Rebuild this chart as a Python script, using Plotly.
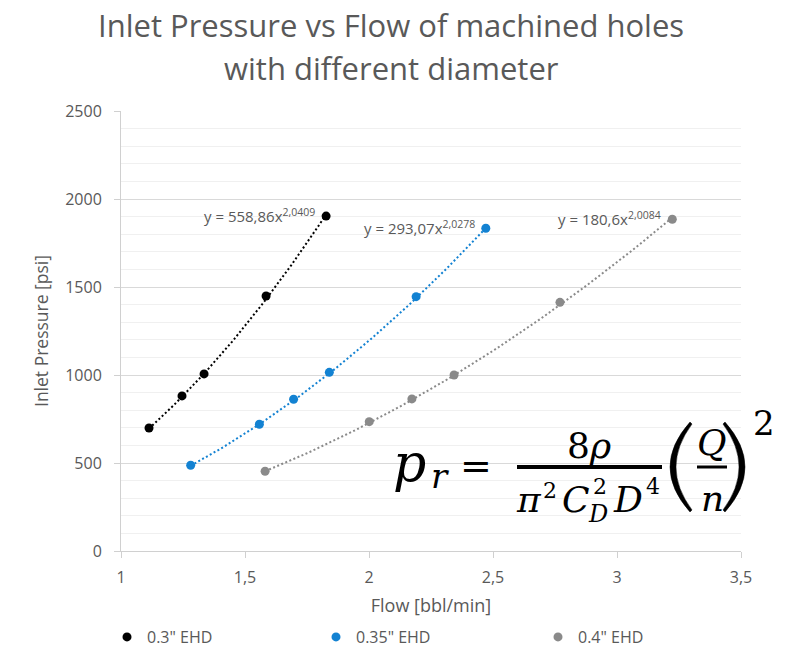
import numpy as np
import plotly.graph_objects as go

# ---- data -------------------------------------------------------------
series_names = ['0.3" EHD', '0.35" EHD', '0.4" EHD']
series_colors = ["#000000", "#1382D2", "#8A8A8A"]

flow_03 = [1.113, 1.246, 1.335, 1.585, 1.827]
pres_03 = [699, 881, 1006, 1449, 1903]

flow_035 = [1.281, 1.558, 1.696, 1.840, 2.190, 2.471]
pres_035 = [487, 720, 862, 1015, 1445, 1834]

flow_04 = [1.581, 2.001, 2.173, 2.343, 2.770, 3.223]
pres_04 = [453, 735, 864, 1000, 1413, 1885]

# power-law trendline coefficients  y = a * x^b
trend_a = [558.86, 293.07, 180.6]
trend_b = [2.0409, 2.0278, 2.0084]

x_ticks = [1, 1.5, 2, 2.5, 3, 3.5]
y_ticks = [0, 500, 1000, 1500, 2000, 2500]

# ---- layout geometry (pixels) ----------------------------------------
W, H = 794, 652
ML, MR, MT, MB = 121, 53, 111, 101
PW, PH = W - ML - MR, H - MT - MB
TXT = "#595959"
FONT = "Open Sans"
MATH = "DejaVu Serif"


def px(x):
    return (x - ML) / PW


def py(y):
    return (H - MB - y) / PH


fig = go.Figure()

flows = [flow_03, flow_035, flow_04]
pressures = [pres_03, pres_035, pres_04]
legends = ["legend", "legend2", "legend3"]

# dotted power-law trendlines
for xs, a, b, col in zip(flows, trend_a, trend_b, series_colors):
    xx = np.linspace(min(xs), max(xs), 80)
    fig.add_trace(go.Scatter(
        x=xx, y=a * xx ** b, mode="lines", showlegend=False, hoverinfo="skip",
        line=dict(color=col, width=2, dash="2px,2.4px"),
    ))

# measured points
for xs, ys, name, col, lg in zip(flows, pressures, series_names, series_colors, legends):
    fig.add_trace(go.Scatter(
        x=xs, y=ys, mode="markers", name=name, legend=lg,
        marker=dict(color=col, size=9),
    ))

# trendline equations next to the last point of each series
for xs, ys, a, b in zip(flows, pressures, trend_a, trend_b):
    a_s = format(a, "g").replace(".", ",")
    b_s = format(b, "g").replace(".", ",")
    fig.add_annotation(
        x=xs[-1], y=ys[-1], xref="x", yref="y", xanchor="right", yanchor="middle",
        xshift=-9, yshift=1, showarrow=False,
        text=f"y = {a_s}x<sup>{b_s}</sup>",
        font=dict(family=FONT, size=15, color=TXT),
    )

# chart title (two lines)
for line, yc in [("Inlet Pressure vs Flow of machined holes", 25),
                 ("with different diameter", 68)]:
    fig.add_annotation(
        x=px(391), y=py(yc), xref="paper", yref="paper", xanchor="center",
        yanchor="middle", showarrow=False, text=line,
        font=dict(family=FONT, size=31, color=TXT),
    )


# ---- orifice pressure-drop formula -----------------------------------
def glyph(text, xc, base, size, anchor="center"):
    fig.add_annotation(
        x=px(xc), y=py(base - 0.35 * size), xref="paper", yref="paper",
        xanchor=anchor, yanchor="middle", showarrow=False, text=text,
        font=dict(family=MATH, size=size, color="#000000"),
    )


def bar(x0, x1, y, w):
    fig.add_shape(type="line", xref="paper", yref="paper",
                  x0=px(x0), x1=px(x1), y0=py(y), y1=py(y),
                  line=dict(color="#000000", width=w))


def paren(xe, xo, xi, y0, y1, sign):
    # crescent-shaped bracket: xe end x, xo outer control, xi inner control
    ym = (y0 + y1) / 2
    d = sign * 2
    pts = [
        f"M{px(xe)},{py(y0)}",
        f"Q{px(xo)},{py(ym)} {px(xe)},{py(y1)}",
        f"L{px(xe + d)},{py(y1 - 2)}",
        f"Q{px(xi)},{py(ym)} {px(xe + d)},{py(y0 + 2)}",
        "Z",
    ]
    fig.add_shape(type="path", xref="paper", yref="paper", path=" ".join(pts),
                  fillcolor="#000000", line=dict(color="#000000", width=0.5))


glyph("<i>p</i>", 409, 481, 52)
glyph("<i>r</i>", 440, 488, 34)
glyph("=", 476, 479, 38)
bar(517, 662, 467, 4)
glyph("8<i>ρ</i>", 589, 458, 36)
glyph("<i>π</i>", 529, 512, 36)
glyph("2", 550, 498, 22)
glyph("<i>C</i>", 576, 512, 36)
glyph("2", 600, 494, 22)
glyph("<i>D</i>", 598, 522, 24)
glyph("<i>D</i>", 628, 512, 36)
glyph("4", 653, 494, 22)
paren(690, 650, 660, 422, 512, 1)
paren(725, 765, 755, 422, 512, -1)
glyph("<i>Q</i>", 712, 455, 36)
bar(697, 727, 467, 3)
glyph("<i>n</i>", 712, 511, 36)
glyph("2", 764, 435, 34)

# ---- axes & layout ---------------------------------------------------
axis_common = dict(
    showline=True, linecolor="#D0D0D0", linewidth=1,
    ticks="outside", ticklen=6, tickcolor="#D0D0D0",
    tickfont=dict(family=FONT, size=16, color=TXT),
    zeroline=False, fixedrange=True,
)

legend_common = dict(
    orientation="h", yanchor="middle", xanchor="left", y=py(637),
    bgcolor="rgba(0,0,0,0)", font=dict(family=FONT, size=16, color=TXT),
)

fig.update_layout(
    width=W, height=H,
    margin=dict(l=ML, r=MR, t=MT, b=MB, autoexpand=False),
    paper_bgcolor="white", plot_bgcolor="white",
    separators=",.",
    xaxis=dict(
        range=[1, 3.5], tickvals=x_ticks, showgrid=False,
        ticklabelstandoff=6,
        title=dict(text="Flow [bbl/min]", standoff=12,
                   font=dict(family=FONT, size=18, color=TXT)),
        **axis_common,
    ),
    yaxis=dict(
        range=[0, 2500], tickvals=y_ticks, showgrid=True, gridcolor="#D9D9D9",
        gridwidth=1, ticklabelstandoff=9,
        minor=dict(dtick=100, showgrid=True, gridcolor="#F0F0F0", gridwidth=1),
        title=dict(text="Inlet Pressure [psi]", standoff=12,
                   font=dict(family=FONT, size=17.5, color=TXT)),
        **axis_common,
    ),
    legend=dict(x=px(107), **legend_common),
    legend2=dict(x=px(316), **legend_common),
    legend3=dict(x=px(538), **legend_common),
)

fig.write_html("out.html")
